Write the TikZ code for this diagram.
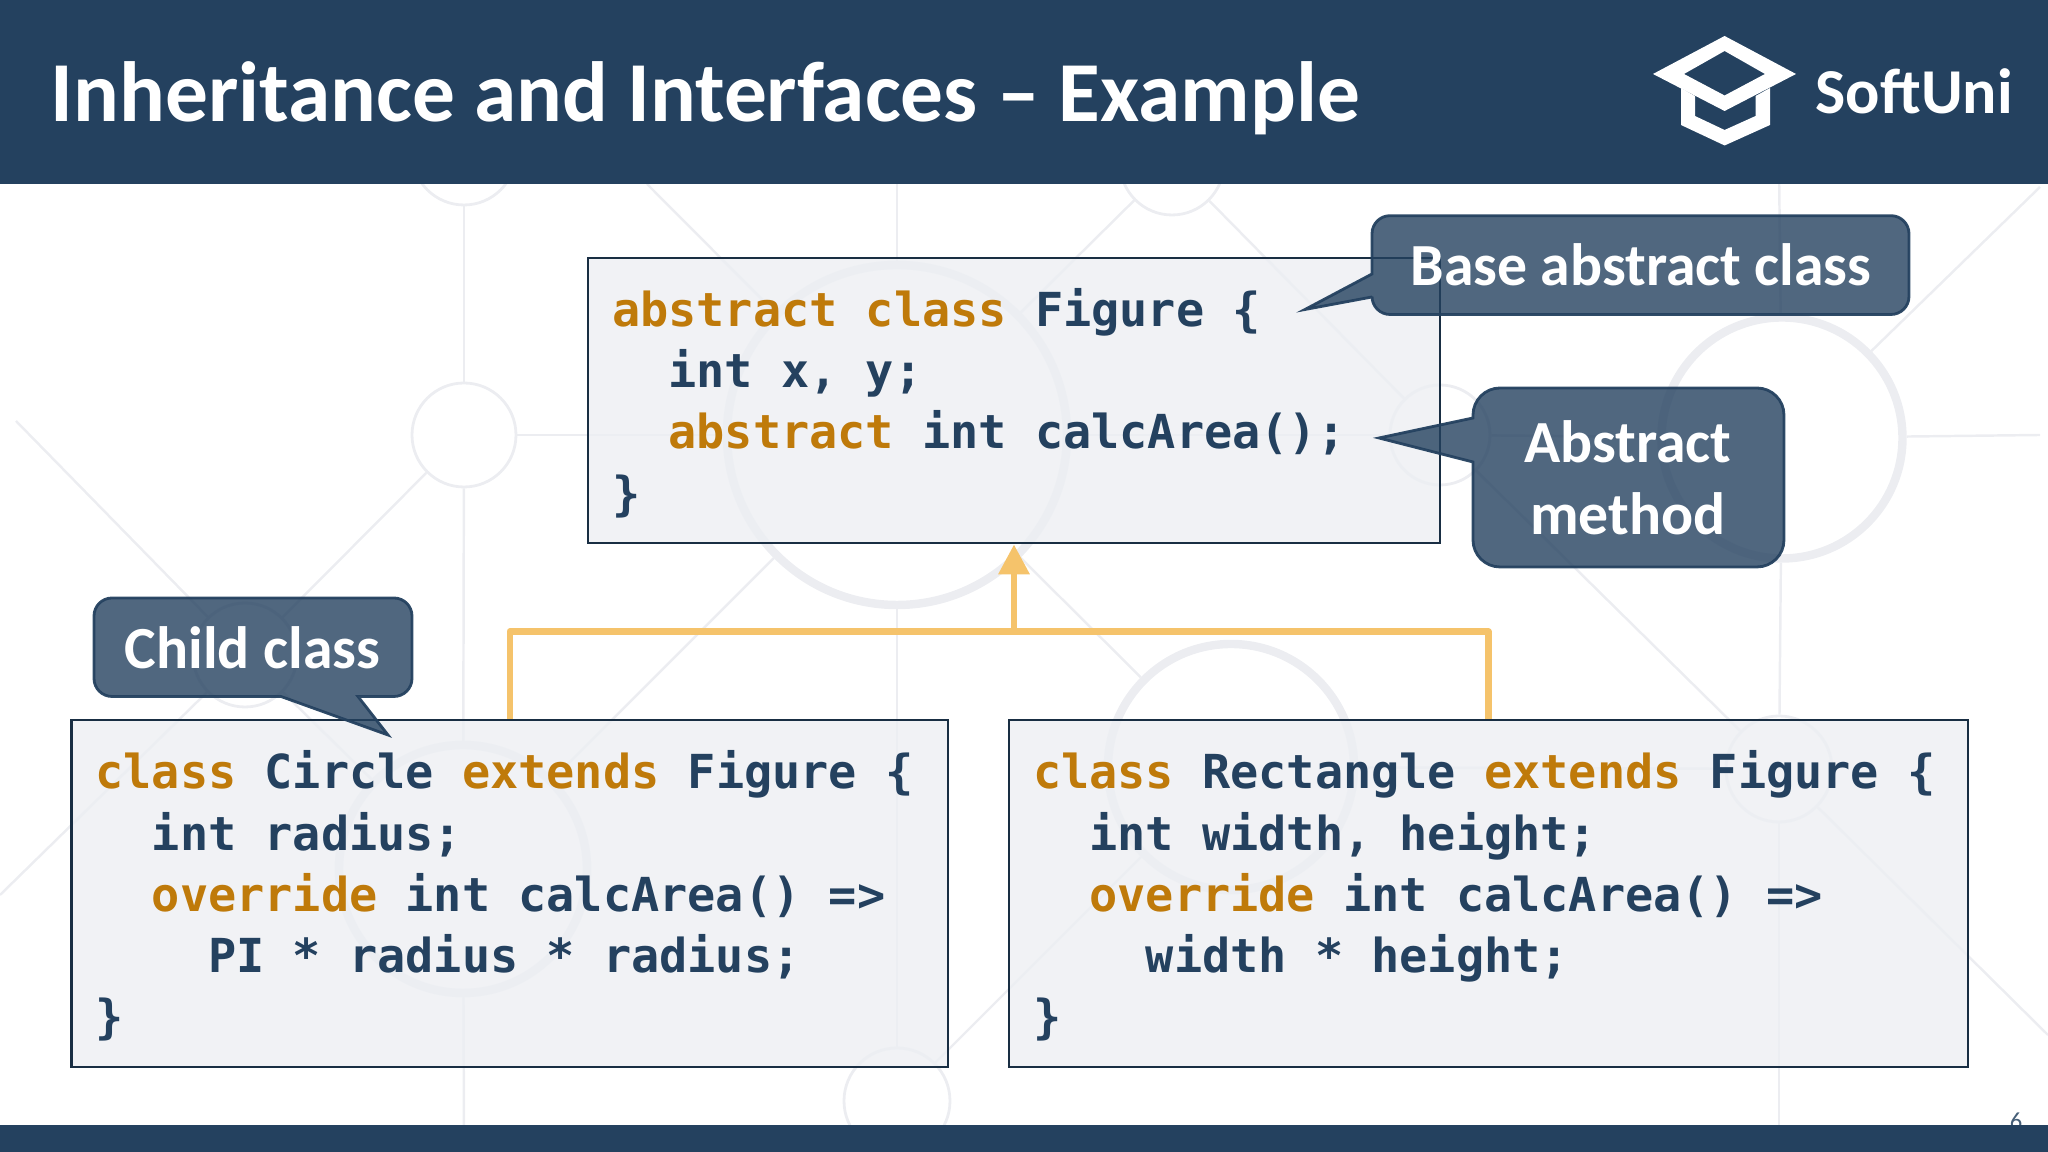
\documentclass[tikz,border=0pt]{standalone}
\usepackage{fontspec}
\setmainfont{Carlito}
\setmonofont{DejaVu Sans Mono}
\usepackage{tikz}
\usetikzlibrary{arrows.meta}
\usetikzlibrary{shapes}
\usetikzlibrary{positioning}
\definecolor{navy}{HTML}{24415F}
\definecolor{keyword}{HTML}{BF7A0A}
\definecolor{bgline}{HTML}{ECEDF1}
\definecolor{boxfill}{HTML}{EDEFF3}
\definecolor{inherit}{HTML}{F5C36B}
\definecolor{note}{HTML}{24415F}
\newcommand \kw [1] {\textcolor{keyword}{#1}}
\newcommand \codeend {\par\vspace{-1.5pt}}
\tikzstyle{ring}=[circle,draw=bgline,line width=0.8pt,inner sep=0mm]
\tikzstyle{bigring}=[ring,line width=2.4pt]
\tikzstyle{web}=[draw=bgline,line width=0.7pt]
\tikzstyle{code}=[rectangle,draw=navy!70!black,line width=0.8pt,fill=boxfill,fill opacity=0.8,text opacity=1,text=navy,inner xsep=0.24cm,inner ysep=0mm,align=left,font=\fontsize{13.33}{17.44}\selectfont\ttfamily\bfseries,execute at begin node={\spaceskip=8.025pt\relax},execute at end node={\codeend}]
\tikzstyle{callout}=[draw=navy,line width=0.8pt,fill=note,fill opacity=0.8,draw opacity=0.95]
\tikzstyle{notetext}=[text=white,font=\fontsize{17}{20.5}\selectfont\bfseries,inner sep=0mm,align=center]
\tikzstyle{arrow}=[-{Triangle[width=0.3cm,length=0.3cm]},draw=inherit,line width=1.85pt]
\tikzstyle{branch}=[draw=inherit,line width=1.85pt,line join=round]

\begin{document}
\begin{tikzpicture}
  \useasboundingbox (0,0) rectangle (20.48,11.52);
  % background web
  \node[ring,minimum size=1.04cm] at (4.64,9.99) (a1) {};
  \node[ring,minimum size=1.04cm] at (4.64,7.17) (a2) {};
  \node[ring,minimum size=1.04cm] at (2.45,4.97) (a3) {};
  \node[bigring,minimum size=2.48cm] at (4.63,2.83) (a4) {};
  \node[bigring,minimum size=3.4cm] at (8.97,7.17) (b1) {};
  \node[ring,minimum size=1.06cm] at (8.97,0.51) (b2) {};
  \node[ring,minimum size=1.04cm] at (11.72,9.89) (c1) {};
  \node[bigring,minimum size=2.46cm] at (12.31,3.85) (c2) {};
  \node[ring,minimum size=1.0cm] at (14.40,7.17) (d1) {};
  \node[bigring,minimum size=2.41cm] at (17.82,7.14) (e1) {};
  \node[ring,minimum size=1.06cm] at (17.79,3.83) (e2) {};
  \coordinate (w1) at (0.16,7.31);
  \coordinate (w2) at (0,2.57);
  \coordinate (w3) at (6.47,9.68);
  \coordinate (w4) at (20.40,9.65);
  \coordinate (w5) at (20.48,1.17);
  \coordinate (w6) at (20.40,7.17);
  \coordinate (w7) at (4.64,0.2);
  \coordinate (w8) at (17.79,0.2);
  \coordinate (w9) at (17.79,9.9);
  \coordinate (w10) at (8.97,9.9);
  \path[web] (a1)--(a2);
  \path[web] (a2)--(a4);
  \path[web] (a4)--(w7);
  \path[web] (a2)--(a3);
  \path[web] (a3)--(a4);
  \path[web] (w1)--(a3);
  \path[web] (a3)--(w2);
  \path[web] (a2)--(b1);
  \path[web] (w3)--(b1);
  \path[web] (w10)--(b1);
  \path[web] (b1)--(b2);
  \path[web] (b1)--(c1);
  \path[web] (b1)--(a4);
  \path[web] (b1)--(c2);
  \path[web] (b1)--(d1);
  \path[web] (c1)--(d1);
  \path[web] (d1)--(e2);
  \path[web] (d1)--(e1);
  \path[web] (c2)--(e2);
  \path[web] (c2)--(b2);
  \path[web] (e1)--(w4);
  \path[web] (e1)--(w6);
  \path[web] (e1)--(w9);
  \path[web] (e1)--(e2);
  \path[web] (e2)--(w8);
  \path[web] (e2)--(w5);
  % page number sits under the footer
  \node[text=navy!85,font=\fontsize{7}{8}\selectfont,inner sep=0mm,anchor=base] at (20.16,0.22) (page) {6};
  % header and footer
  \fill[navy] (0,9.68) rectangle (20.48,11.52);
  \fill[navy] (0,0) rectangle (20.48,0.27);
  \node[text=white,font=\fontsize{24.3}{28}\selectfont\bfseries,inner sep=0mm,anchor=base west] at (0.5,10.30) (title) {Inheritance and Interfaces – Example};
  \fill[white,even odd rule] (16.53,10.78)--(17.246,11.16)--(17.96,10.78)--(17.246,10.41)--cycle (16.84,10.78)--(17.246,11.01)--(17.65,10.78)--(17.246,10.565)--cycle;
  \fill[white] (16.81,10.64)--(16.81,10.27)--(17.246,10.065)--(17.70,10.27)--(17.70,10.64)--(17.556,10.56)--(17.556,10.36)--(17.246,10.22)--(16.95,10.36)--(16.95,10.56)--cycle;
  \node[text=white,font=\fontsize{18.2}{20}\selectfont\bfseries,inner sep=0mm,anchor=base west] at (18.15,10.38) (logo) {SoftUni};
  % class boxes
  \node[code,text width=8.04cm,minimum height=2.85cm] at (10.14,7.515) (figure) {\kw{abstract} \kw{class} Figure \{\\
~~int x, y;\\
~~\kw{abstract} int calcArea();\\
\}};
  \node[code,text width=8.285cm,minimum height=3.47cm] at (5.0975,2.585) (circle) {\kw{class} Circle \kw{extends} Figure \{\\
~~int radius;\\
~~\kw{override} int calcArea() =>\\
~~~~PI * radius * radius;\\
\}};
  \node[code,text width=9.11cm,minimum height=3.47cm] at (14.885,2.585) (rect) {\kw{class} Rectangle \kw{extends} Figure \{\\
~~int width, height;\\
~~\kw{override} int calcArea() =>\\
~~~~width * height;\\
\}};
  % inheritance arrows
  \coordinate (join) at (10.14,5.204);
  \draw[branch] (circle.north) |- (join);
  \draw[branch] (rect.north) |- (join);
  \draw[arrow] (join)--(figure.south);
  % notes
  \path[callout] (13.72,8.78) [rounded corners=0.18cm] --(13.72,9.363)--(19.09,9.363)--(19.09,8.375)--(13.72,8.375) [sharp corners] --(13.72,8.55)--(13.05,8.425)--cycle;
  \node[notetext,anchor=base] at (16.41,8.66) (basenote) {Base abstract class};
  \path[callout] (14.73,7.34) [rounded corners=0.27cm] --(14.73,7.64)--(17.84,7.64)--(17.84,5.85)--(14.73,5.85) [sharp corners] --(14.73,6.90)--(13.79,7.14)--cycle;
  \node[notetext] at (16.28,6.74) (abstractnote) {Abstract\\method};
  \path[callout] (2.2,5.54) [rounded corners=0.18cm] --(4.12,5.54)--(4.12,4.555) [sharp corners] --(3.58,4.555)--(3.88,4.17)--(2.81,4.555) [rounded corners=0.18cm] --(0.94,4.555)--(0.94,5.54)--cycle;
  \node[notetext,anchor=base] at (2.525,4.83) (childnote) {Child class};
\end{tikzpicture}
\end{document}
